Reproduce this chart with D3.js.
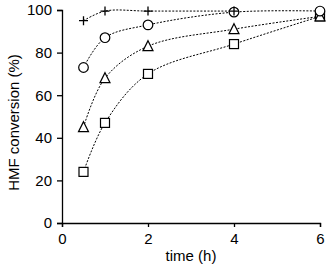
<!DOCTYPE html>
<html>
<head>
<meta charset="utf-8">
<script src="https://cdn.jsdelivr.net/npm/d3@7"></script>
<style>
  body { margin: 0; background: #fff; }
  text { font-family: "Liberation Sans", Arial, sans-serif; }
</style>
</head>
<body>
<div id="chart"></div>
<script>
// Data (plus marker at 6 h is hidden behind the circle)
const times = [0.5, 1, 2, 4, 6];
const plusVals = [95, 99.5, 99.5, 99.5, null];
const circleVals = [73, 87, 93, 99, 99.5];
const triangleVals = [45, 68, 83, 91, 97];
const squareVals = [24, 47, 70, 84, 97];
const xTicks = [0, 2, 4, 6];
const yTicks = [0, 20, 40, 60, 80, 100];

const width = 326, height = 271;
const margin = { top: 10, right: 6, bottom: 48, left: 62 };
const innerW = width - margin.left - margin.right;
const innerH = 223 - margin.top;

const svg = d3.select("#chart").append("svg")
    .attr("width", width)
    .attr("height", height);

const g = svg.append("g").attr("transform", `translate(${margin.left},${margin.top})`);

const x = d3.scaleLinear().domain([0, 6]).range([0, innerW]);
const y = d3.scaleLinear().domain([0, 100]).range([innerH, 0]);

// axes
const xAxis = g.append("g")
    .attr("transform", `translate(0,${innerH})`)
    .call(d3.axisBottom(x).tickValues(xTicks).tickFormat(d3.format("d")).tickSize(4).tickPadding(6));
const yAxis = g.append("g")
    .call(d3.axisLeft(y).tickValues(yTicks).tickFormat(d3.format("d")).tickSize(5).tickPadding(5));
[xAxis, yAxis].forEach(a => {
  a.select(".domain").attr("stroke", "#000").attr("stroke-width", 1.3);
  a.selectAll(".tick line").attr("stroke", "#000").attr("stroke-width", 1.3);
  a.selectAll(".tick text").attr("font-size", 15).attr("fill", "#000")
    .attr("font-family", "Liberation Sans, Arial, sans-serif");
});

// axis labels
svg.append("text")
    .attr("x", margin.left + x(3))
    .attr("y", 261)
    .attr("text-anchor", "middle")
    .attr("font-size", 15)
    .text("time (h)");
svg.append("text")
    .attr("transform", `translate(19,${margin.top + innerH / 2 + 6}) rotate(-90)`)
    .attr("text-anchor", "middle")
    .attr("font-size", 15)
    .text("HMF conversion (%)");

const series = [
  { vals: squareVals, shape: "square" },
  { vals: triangleVals, shape: "triangle" },
  { vals: circleVals, shape: "circle" },
  { vals: plusVals, shape: "plus" }
];

const line = d3.line()
    .defined(d => d[1] != null)
    .x(d => x(d[0]))
    .y(d => y(d[1]))
    .curve(d3.curveCatmullRom.alpha(0.5));

series.forEach(s => {
  const pts = times.map((t, i) => [t, s.vals[i]]);
  g.append("path")
      .datum(pts)
      .attr("d", line)
      .attr("fill", "none")
      .attr("stroke", "#000")
      .attr("stroke-width", 1)
      .attr("stroke-dasharray", "2,1.5");
});

series.forEach(s => {
  const pts = times.map((t, i) => [t, s.vals[i]]).filter(d => d[1] != null);
  const m = g.append("g").selectAll("g").data(pts).enter().append("g")
      .attr("transform", d => `translate(${x(d[0])},${y(d[1])})`);
  if (s.shape === "square") {
    m.append("rect").attr("x", -4.5).attr("y", -4.5).attr("width", 9).attr("height", 9)
      .attr("fill", "#fff").attr("stroke", "#000").attr("stroke-width", 1.2);
  } else if (s.shape === "circle") {
    m.append("circle").attr("r", 4.8)
      .attr("fill", "#fff").attr("stroke", "#000").attr("stroke-width", 1.2);
  } else if (s.shape === "triangle") {
    m.append("path").attr("d", "M0,-5.5L5,4.5L-5,4.5Z")
      .attr("fill", "#fff").attr("stroke", "#000").attr("stroke-width", 1.2);
  } else {
    m.append("path").attr("d", "M-4.5,0H4.5M0,-4.5V4.5")
      .attr("fill", "none").attr("stroke", "#000").attr("stroke-width", 1.3);
  }
});
</script>
</body>
</html>
